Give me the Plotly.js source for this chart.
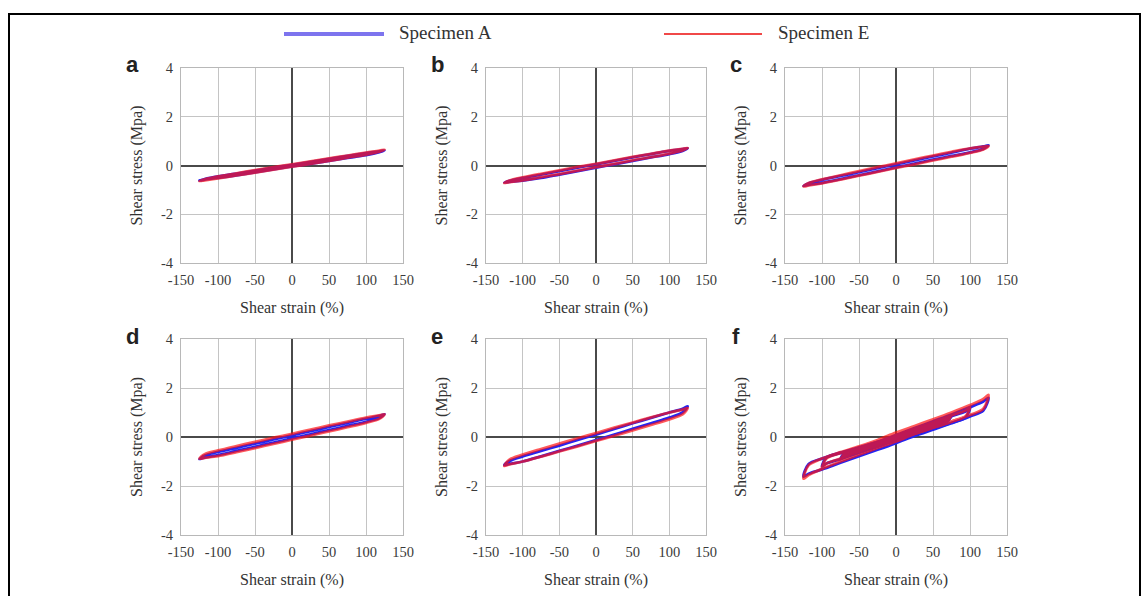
<!DOCTYPE html>
<html>
<head>
<meta charset="utf-8">
<script src="https://cdn.plot.ly/plotly-3.0.1.min.js"></script>
<style>html,body{margin:0;padding:0;background:#fff;}#chart{width:1144px;height:596px;}</style>
</head>
<body>
<div id="chart"></div>
<script>
// ---- data ----
const panelLetters = ["a", "b", "c", "d", "e", "f"];
const seriesNames = ["Specimen A", "Specimen E"];
const xTickVals = [-150, -100, -50, 0, 50, 100, 150];
const xTickText = ["-150", "-100", "-50", "0", "50", "100", "150"];
const yTickVals = [-4, -2, 0, 2, 4];
const yTickText = ["-4", "-2", "0", "2", "4"];

// strain paths of one loop (increasing, then decreasing strain), %
const strain125 = [-125,-118,-100,-75,-50,-25,0,25,50,75,100,118,125,118,100,75,50,25,0,-25,-50,-75,-100,-118,-125];
const strain100 = [-100,-94,-75,-50,-25,0,25,50,75,94,100,94,75,50,25,0,-25,-50,-75,-94,-100];
const strain75  = [-75,-70,-50,-25,0,25,50,70,75,70,50,25,0,-25,-50,-70,-75];

// shear stress (MPa) along strain125
const aA = [-0.62,-0.56,-0.45,-0.33,-0.21,-0.09,0.03,0.15,0.27,0.39,0.51,0.58,0.62,0.55,0.43,0.31,0.19,0.07,-0.04,-0.16,-0.28,-0.40,-0.51,-0.58,-0.62];
const aE = [-0.64,-0.57,-0.45,-0.32,-0.19,-0.07,0.05,0.17,0.29,0.41,0.53,0.61,0.65,0.57,0.45,0.32,0.19,0.07,-0.05,-0.17,-0.29,-0.41,-0.53,-0.61,-0.64];
const bA = [-0.70,-0.63,-0.51,-0.37,-0.23,-0.09,0.05,0.19,0.33,0.47,0.60,0.67,0.71,0.60,0.47,0.33,0.19,0.05,-0.09,-0.23,-0.37,-0.51,-0.62,-0.67,-0.70];
const bE = [-0.72,-0.62,-0.49,-0.34,-0.20,-0.06,0.07,0.21,0.35,0.48,0.61,0.68,0.72,0.62,0.49,0.34,0.21,0.07,-0.07,-0.21,-0.35,-0.48,-0.61,-0.68,-0.72];
const cA = [-0.84,-0.73,-0.59,-0.43,-0.27,-0.11,0.05,0.21,0.37,0.53,0.69,0.78,0.83,0.68,0.54,0.39,0.24,0.08,-0.08,-0.24,-0.40,-0.56,-0.71,-0.79,-0.84];
const cE = [-0.86,-0.72,-0.57,-0.40,-0.23,-0.07,0.09,0.25,0.41,0.56,0.70,0.77,0.80,0.66,0.52,0.36,0.21,0.05,-0.10,-0.26,-0.42,-0.58,-0.73,-0.82,-0.86];
const dA = [-0.90,-0.76,-0.61,-0.44,-0.27,-0.10,0.07,0.24,0.41,0.58,0.75,0.86,0.93,0.78,0.62,0.45,0.28,0.11,-0.06,-0.23,-0.40,-0.57,-0.74,-0.84,-0.90];
const dE = [-0.88,-0.70,-0.55,-0.37,-0.20,-0.03,0.13,0.30,0.47,0.63,0.79,0.88,0.92,0.74,0.58,0.40,0.23,0.06,-0.11,-0.28,-0.45,-0.62,-0.78,-0.85,-0.88];
const eA = [-1.15,-0.98,-0.79,-0.57,-0.35,-0.12,0.10,0.33,0.56,0.78,1.00,1.15,1.25,1.00,0.79,0.56,0.33,0.10,-0.13,-0.35,-0.57,-0.79,-1.00,-1.10,-1.15];
const eE = [-1.18,-0.92,-0.72,-0.49,-0.27,-0.05,0.16,0.38,0.59,0.80,1.00,1.12,1.18,0.92,0.72,0.49,0.27,0.05,-0.16,-0.38,-0.59,-0.80,-1.00,-1.12,-1.18];
const fA125 = [-1.62,-1.10,-0.88,-0.65,-0.44,-0.20,0.08,0.36,0.64,0.92,1.22,1.45,1.60,1.08,0.84,0.56,0.30,0.04,-0.25,-0.52,-0.78,-1.05,-1.32,-1.50,-1.62];
const fE125 = [-1.70,-1.15,-0.88,-0.62,-0.38,-0.12,0.18,0.45,0.72,1.00,1.30,1.55,1.72,1.15,0.90,0.63,0.38,0.12,-0.18,-0.45,-0.72,-1.00,-1.30,-1.55,-1.70];
// along strain100
const fA100 = [-1.20,-0.84,-0.64,-0.42,-0.20,0.05,0.32,0.58,0.85,1.04,1.18,0.80,0.58,0.34,0.10,-0.15,-0.40,-0.65,-0.90,-1.08,-1.20];
const fE100 = [-1.25,-0.88,-0.66,-0.42,-0.18,0.08,0.35,0.60,0.88,1.08,1.22,0.85,0.63,0.38,0.14,-0.10,-0.35,-0.60,-0.88,-1.08,-1.25];
// along strain75
const fA75 = [-0.90,-0.66,-0.46,-0.24,0.01,0.27,0.52,0.74,0.88,0.64,0.42,0.18,-0.07,-0.32,-0.57,-0.78,-0.90];
const fE75 = [-0.95,-0.70,-0.48,-0.25,0.02,0.28,0.55,0.78,0.92,0.67,0.45,0.20,-0.05,-0.30,-0.55,-0.80,-0.95];

// ---- build panels ----
const W = 1144, H = 596;
const colPx = [[181, 403], [486, 706], [785, 1007]];
const rowPx = [[68, 263], [339, 535]];
const blue = "#2424f0", red = "#ff1414";

function join(parts) { // join loops with gaps
  const out = [];
  parts.forEach((p, i) => { if (i) out.push(null); out.push(...p); });
  return out;
}
const panels = [
  {A: [[strain125, aA]], E: [[strain125, aE]]},
  {A: [[strain125, bA]], E: [[strain125, bE]]},
  {A: [[strain125, cA]], E: [[strain125, cE]]},
  {A: [[strain125, dA]], E: [[strain125, dE]]},
  {A: [[strain125, eA]], E: [[strain125, eE]]},
  {A: [[strain125, fA125], [strain100, fA100], [strain75, fA75]],
   E: [[strain125, fE125], [strain100, fE100], [strain75, fE75]]}
];

const data = [];
const layout = {
  width: W, height: H,
  margin: {l: 0, r: 0, t: 0, b: 0},
  paper_bgcolor: "#fff", plot_bgcolor: "#fff",
  showlegend: false,
  font: {family: "Liberation Serif, Times New Roman, serif", color: "#333"},
  annotations: [], shapes: []
};
const font = {family: "Liberation Serif, Times New Roman, serif", size: 14.5, color: "#3a3a3a"};
const titleFont = {family: "Liberation Serif, Times New Roman, serif", size: 16, color: "#333"};

panels.forEach((p, i) => {
  const r = Math.floor(i / 3), c = i % 3;
  const sx = i === 0 ? "" : String(i + 1);
  const xa = "x" + sx, ya = "y" + sx;
  [["A", blue, 1.0], ["E", red, 0.7]].forEach(([k, col, op]) => {
    data.push({
      type: "scatter", mode: "lines", xaxis: xa, yaxis: ya,
      name: k === "A" ? seriesNames[0] : seriesNames[1],
      x: join(p[k].map(l => l[0])), y: join(p[k].map(l => l[1])),
      line: {color: col, width: 2.8, shape: "spline", smoothing: 0.9},
      opacity: op, connectgaps: false, hoverinfo: "skip"
    });
  });
  const common = {
    showgrid: true, gridcolor: "#c4c4c4", gridwidth: 1,
    zeroline: true, zerolinecolor: "#4a4a4a", zerolinewidth: 2,
    showline: true, linecolor: "#b8b8b8", linewidth: 1, mirror: true,
    ticks: "outside", ticklen: 4, tickcolor: "rgba(0,0,0,0)",
    tickfont: font, fixedrange: true
  };
  layout["xaxis" + sx] = Object.assign({}, common, {
    domain: [colPx[c][0] / W, colPx[c][1] / W], anchor: ya,
    range: [-150, 150], tickmode: "array", tickvals: xTickVals, ticktext: xTickText,
    title: {text: "Shear strain (%)", font: titleFont, standoff: 14}
  });
  layout["yaxis" + sx] = Object.assign({}, common, {
    domain: [1 - rowPx[r][1] / H, 1 - rowPx[r][0] / H], anchor: xa,
    range: [-4, 4], tickmode: "array", tickvals: yTickVals, ticktext: yTickText,
    title: {text: "Shear stress (Mpa)", font: titleFont, standoff: 14}
  });
  layout.annotations.push({
    xref: "paper", yref: "paper", x: (colPx[c][0] - 49) / W, y: 1 - (rowPx[r][0] - 3) / H,
    text: "<b>" + panelLetters[i] + "</b>", showarrow: false,
    xanchor: "center", yanchor: "middle",
    font: {family: "Liberation Sans, Arial, sans-serif", size: 22, color: "#222"}
  });
});

// legend drawn at the top
const legendItems = [
  {name: seriesNames[0], color: "#7d74ee", width: 4, x0: 284, x1: 384, tx: 397},
  {name: seriesNames[1], color: "#f04848", width: 2, x0: 664, x1: 762, tx: 776}
];
legendItems.forEach(it => {
  layout.shapes.push({type: "line", xref: "paper", yref: "paper",
    x0: it.x0 / W, x1: it.x1 / W, y0: 1 - 34 / H, y1: 1 - 34 / H,
    line: {color: it.color, width: it.width}});
  layout.annotations.push({xref: "paper", yref: "paper", x: it.tx / W, y: 1 - 33 / H,
    text: it.name, showarrow: false, xanchor: "left", yanchor: "middle",
    font: {family: "Liberation Serif, Times New Roman, serif", size: 19, color: "#333"}});
});
// outer frame
layout.shapes.push({type: "rect", xref: "paper", yref: "paper",
  x0: 9 / W, x1: 1140 / W, y0: -0.05, y1: 1 - 14 / H,
  line: {color: "#000", width: 2}, fillcolor: "rgba(0,0,0,0)"});

Plotly.newPlot("chart", data, layout, {staticPlot: true, displayModeBar: false});
</script>
</body>
</html>
